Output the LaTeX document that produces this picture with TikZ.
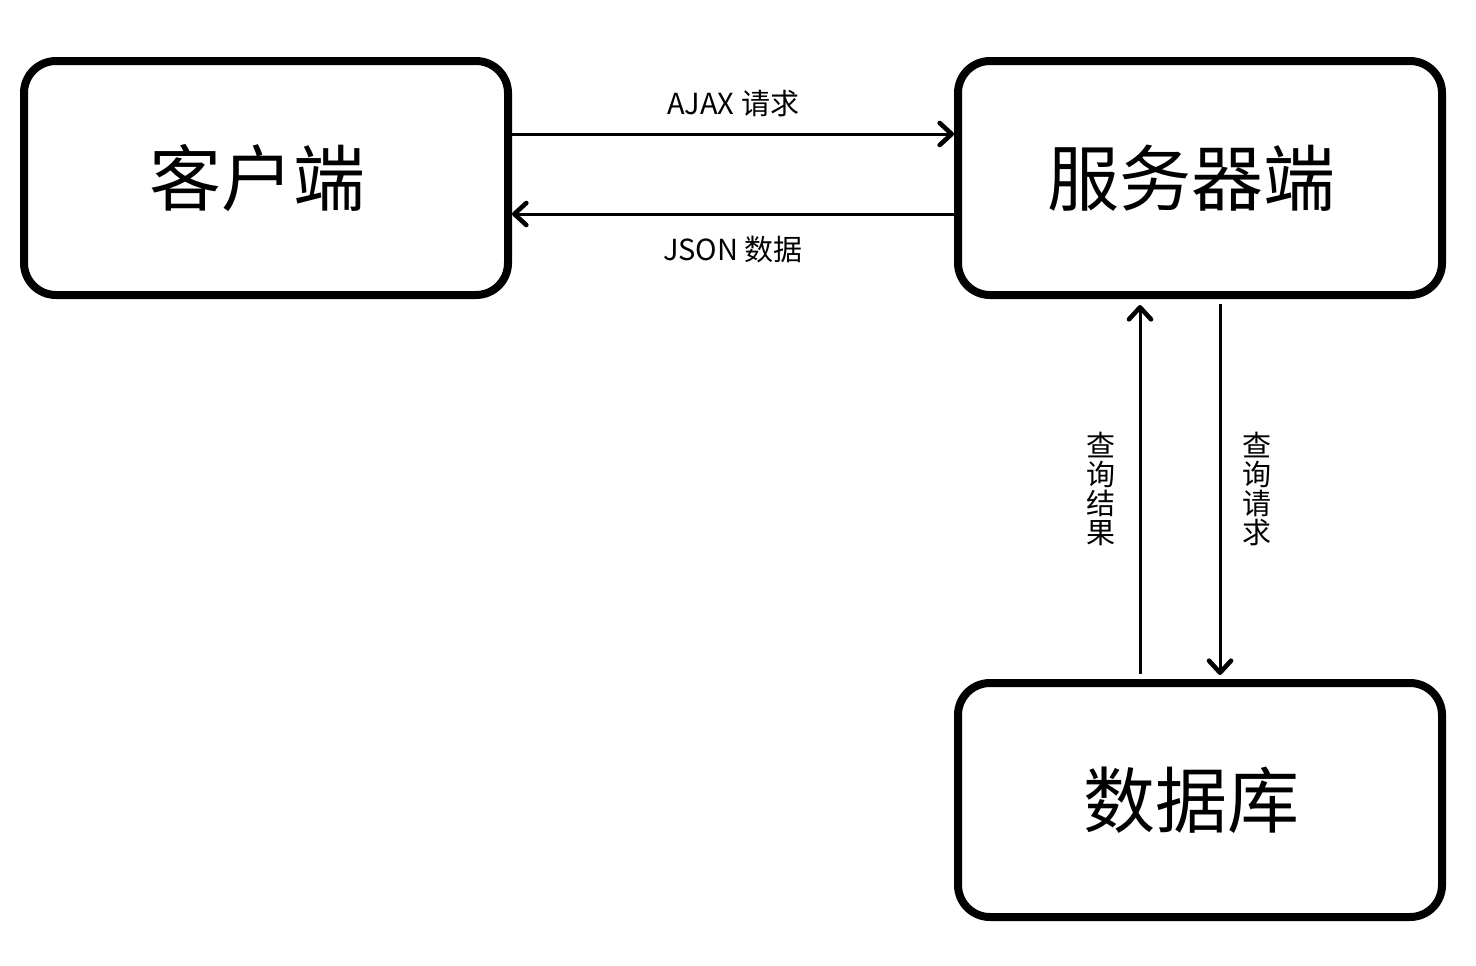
\documentclass[tikz,border=0pt]{standalone}
\usepackage{fontspec}
\setmainfont{Noto Sans CJK SC}
\usetikzlibrary{arrows.meta,positioning}

\begin{document}
\begin{tikzpicture}[x=0.5pt,y=-0.5pt,
  box/.style={draw, line width=4pt, rounded corners=16pt,
    minimum width=242pt, minimum height=117pt,
    font=\fontsize{36}{36}\selectfont},
  arr/.style={line width=1.5pt,
    -{Straight Barb[length=6pt,width=11pt,line width=2.3pt,round]}},
  lbl/.style={font=\fontsize{14.5}{14.5}\selectfont, align=center}]
  % Fix the page size
  \useasboundingbox (0,0) rectangle (1476,965);

  % The three boxes
  \node[box] (client) at (266,178) {\hspace*{-9pt}客户端};
  \node[box] (server) at (1200,178) {\hspace*{-9pt}服务器端};
  \node[box] (db) at (1200,800) {\hspace*{-9pt}数据库};

  % Client <-> server
  \draw[arr] ([yshift=22pt]client.east) -- ([yshift=22pt]server.west)
    node[lbl, midway, yshift=15pt] {AJAX 请求};
  \draw[arr] ([yshift=-18pt]server.west) -- ([yshift=-18pt]client.east)
    node[lbl, midway, yshift=-17.5pt] {JSON 数据};

  % Server <-> database
  \draw[arr, shorten >=3pt, shorten <=2.5pt] ([xshift=-30pt]db.north) -- ([xshift=-30pt]server.south)
    node[lbl, midway, xshift=-19.5pt] {查\\询\\结\\果};
  \draw[arr, shorten >=2pt, shorten <=2.5pt] ([xshift=10pt]server.south) -- ([xshift=10pt]db.north)
    node[lbl, midway, xshift=18.5pt] {查\\询\\请\\求};
\end{tikzpicture}
\end{document}
